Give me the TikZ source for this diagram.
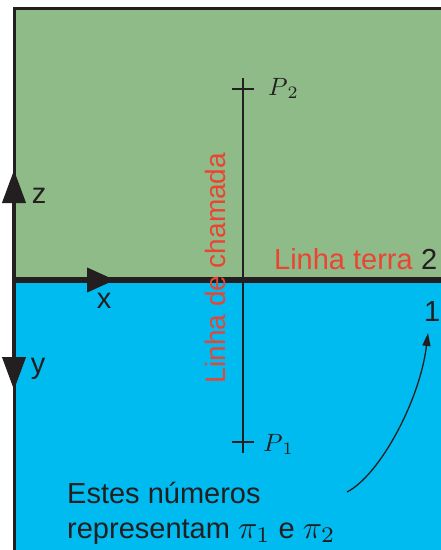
\documentclass[tikz,border=0pt]{standalone}
\usepackage{graphicx}
\usepackage{fontspec}
\setsansfont{Liberation Sans}
\usetikzlibrary{arrows.meta}
\definecolor{planegreen}{RGB}{143,187,137}
\definecolor{planeblue}{RGB}{0,187,240}
\definecolor{labelred}{RGB}{235,68,50}
\definecolor{inkdark}{RGB}{35,31,32}
\newcommand\scaledmath[2]{\scalebox{#1}{\fontsize{10}{12}\selectfont$#2$}}
\tikzset{
  txt/.style={inner sep=0pt, text=inkdark, font=\sffamily\fontsize{29}{35}\selectfont},
  redtxt/.style={txt, text=labelred},
  axis/.style={draw=inkdark, line width=4pt, -{Triangle[length=33pt,width=23pt]}},
  ptlabel/.style={inner sep=0pt, text=inkdark},
  crossmark/.style={draw=inkdark, line width=2pt},
}
\begin{document}
\begin{tikzpicture}[x=1pt,y=-1pt]
\useasboundingbox (0,0) rectangle (441,550);
% planes
\fill[planegreen] (14,8) rectangle (441,280);
\fill[planeblue] (14,280) rectangle (441,550);
\draw[inkdark, line width=3pt] (14,550) -- (14,8) -- (441,8);
% ground line
\coordinate (O) at (14,280);
\coordinate (E) at (441,280);
\draw[inkdark, line width=6pt] (O) -- (E);
% axes
\coordinate (ztip) at (14,170);
\coordinate (xtip) at (115,280);
\coordinate (ytip) at (14,390);
\draw[axis] (O) -- (ztip);
\draw[axis, -{Triangle[length=28pt,width=24pt]}] (O) -- (xtip);
\draw[axis] (O) -- (ytip);
\node[txt, anchor=base] (zl) at (39,203) {z};
\node[txt, anchor=base] (xl) at (104,308) {x};
\node[txt, anchor=base] (yl) at (38,373) {y};
% projection line
\coordinate (P2) at (243,89);
\coordinate (P1) at (243,442);
\draw[inkdark, line width=1.4pt] ([yshift=11pt]P2) -- ([yshift=-11pt]P1);
\draw[crossmark] ([xshift=-11pt]P2) -- ([xshift=11pt]P2);
\draw[crossmark] ([yshift=11pt]P2) -- ([yshift=-11pt]P2);
\draw[crossmark] ([xshift=-11pt]P1) -- ([xshift=11pt]P1);
\draw[crossmark] ([yshift=11pt]P1) -- ([yshift=-11pt]P1);
\node[ptlabel, anchor=base west] (p2l) at (268,95) {\scaledmath{2.5}{P_{\,2}}};
\node[ptlabel, anchor=base west] (p1l) at (263,451) {\scaledmath{2.5}{P_{\,1}}};
\node[redtxt, rotate=90, anchor=base, font=\sffamily\fontsize{28}{34}\selectfont] (lc) at (225,268) {Linha de chamada};
% ground line labels
\node[redtxt, anchor=base east] (lt) at (413,269) {Linha terra};
\node[txt, anchor=base west] (two) at (421,269) {2};
\node[txt, anchor=base west] (one) at (424,321) {1};
% note
\node[txt, anchor=base west] (n1) at (67,503) {Estes números};
\node[txt, anchor=base west] (n2) at (67,538) {representam \scaledmath{3.2}{\pi_1} e \scaledmath{3.2}{\pi_2}};
\coordinate (cs) at (347,492);
\coordinate (ct) at (428,333);
\draw[inkdark, line width=1.3pt, -{Triangle[length=13pt,width=8pt]}] (cs) .. controls (380,475) and (420,400) .. (ct);
\end{tikzpicture}
\end{document}
